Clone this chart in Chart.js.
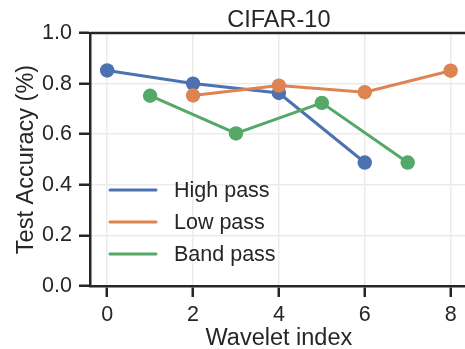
<!DOCTYPE html>
<html>
<head>
<meta charset="utf-8">
<script src="https://cdn.jsdelivr.net/npm/chart.js@4.4.1/dist/chart.umd.min.js"></script>
<style>
  html, body { margin: 0; padding: 0; background: #fff; overflow: hidden; }
  #wrap { width: 475px; height: 349px; }
</style>
</head>
<body>
<div id="wrap"><canvas id="waveletChart" width="475" height="349"></canvas></div>
<script>
// values
const seriesNames = ["High pass", "Low pass", "Band pass"];
const highPassX = [0, 2, 4, 6];
const highPassY = [0.852, 0.80, 0.763, 0.488];
const lowPassX = [2, 4, 6, 8];
const lowPassY = [0.753, 0.792, 0.766, 0.851];
const bandPassX = [1, 3, 5, 7];
const bandPassY = [0.752, 0.603, 0.724, 0.488];
const xTicks = [0, 2, 4, 6, 8];
const yTicks = [0.0, 0.2, 0.4, 0.6, 0.8, 1.0];
const chartTitle = "CIFAR-10";

const colors = ["#4C72B0", "#DD8452", "#55A868"];
const ink = "#262626";
const gridColor = "#ebebeb";
const fontFamily = "'Liberation Sans', Arial, sans-serif";

function toPoints(xs, ys) {
  return xs.map((x, i) => ({ x: x, y: ys[i] }));
}

const allX = [highPassX, lowPassX, bandPassX];
const allY = [highPassY, lowPassY, bandPassY];

const datasets = seriesNames.map((name, i) => ({
  label: name,
  data: toPoints(allX[i], allY[i]),
  borderColor: colors[i],
  backgroundColor: colors[i],
  borderWidth: 3,
  pointRadius: 7.2,
  pointHoverRadius: 7.2,
  pointBorderWidth: 0,
  pointBackgroundColor: colors[i],
  tension: 0,
  order: seriesNames.length - i  // later series drawn on top
}));

// legend drawn inside the plot, lower left, like matplotlib
const insideLegend = {
  id: "insideLegend",
  afterDraw(chart) {
    const ctx = chart.ctx;
    const area = chart.chartArea;
    const x0 = area.left + 20;
    const rowH = 32;
    const yStart = area.bottom - 96;
    ctx.save();
    ctx.font = "21.5px " + fontFamily;
    ctx.textBaseline = "middle";
    ctx.textAlign = "left";
    chart.data.datasets.forEach((ds, i) => {
      const y = yStart + i * rowH;
      ctx.strokeStyle = ds.borderColor;
      ctx.lineWidth = 3;
      ctx.lineCap = "round";
      ctx.beginPath();
      ctx.moveTo(x0, y);
      ctx.lineTo(x0 + 46, y);
      ctx.stroke();
      ctx.fillStyle = ink;
      ctx.fillText(ds.label, x0 + 64, y + 1);
    });
    ctx.restore();
  }
};

// top spine + title centred over the axes, as matplotlib does
const frame = {
  id: "frame",
  beforeDatasetsDraw(chart) {
    const ctx = chart.ctx;
    const a = chart.chartArea;
    ctx.save();
    ctx.strokeStyle = ink;
    ctx.lineWidth = 2.5;
    ctx.beginPath();
    ctx.moveTo(a.left, a.top);
    ctx.lineTo(a.right, a.top);
    ctx.stroke();
    ctx.restore();
  },
  afterDraw(chart) {
    const ctx = chart.ctx;
    const a = chart.chartArea;
    ctx.save();
    ctx.font = "23.5px " + fontFamily;
    ctx.fillStyle = ink;
    ctx.textAlign = "center";
    ctx.textBaseline = "alphabetic";
    ctx.fillText(chartTitle, (a.left + a.right) / 2, a.top - 6);
    ctx.restore();
  }
};

new Chart(document.getElementById("waveletChart"), {
  type: "line",
  data: { datasets: datasets },
  plugins: [frame, insideLegend],
  options: {
    responsive: false,
    animation: false,
    events: [],
    layout: { padding: { top: 33, left: 0, right: 0, bottom: 0 } },
    plugins: {
      legend: { display: false },
      tooltip: { enabled: false },
      title: { display: false }
    },
    scales: {
      x: {
        type: "linear",
        min: -0.4,
        max: 8.4,
        afterBuildTicks: (s) => { s.ticks = xTicks.map(v => ({ value: v })); },
        afterFit: (s) => { s.height = 63; },
        ticks: {
          color: ink,
          padding: 5,
          font: { family: fontFamily, size: 21.5 },
          callback: (v) => String(v)
        },
        grid: {
          color: gridColor,
          lineWidth: 1.5,
          drawTicks: true,
          tickLength: 11,
          tickColor: ink,
          tickWidth: 2.5
        },
        border: { display: true, color: ink, width: 2.5 },
        title: {
          display: true,
          text: "Wavelet index",
          color: ink,
          font: { family: fontFamily, size: 23.5, lineHeight: 0.85 },
          padding: { top: 0, bottom: 0 }
        }
      },
      y: {
        type: "linear",
        min: 0,
        max: 1,
        afterBuildTicks: (s) => { s.ticks = yTicks.map(v => ({ value: v })); },
        afterFit: (s) => { s.width = 90; },
        ticks: {
          color: ink,
          padding: 7,
          font: { family: fontFamily, size: 21.5 },
          callback: (v) => Number(v).toFixed(1)
        },
        grid: {
          color: gridColor,
          lineWidth: 1.5,
          drawTicks: true,
          tickLength: 11,
          tickColor: ink,
          tickWidth: 2.5
        },
        border: { display: true, color: ink, width: 2.5 },
        title: {
          display: true,
          text: "Test Accuracy (%)",
          color: ink,
          font: { family: fontFamily, size: 23.5, lineHeight: 1.2 },
          padding: { top: 12, bottom: 0 }
        }
      }
    }
  }
});
</script>
</body>
</html>
